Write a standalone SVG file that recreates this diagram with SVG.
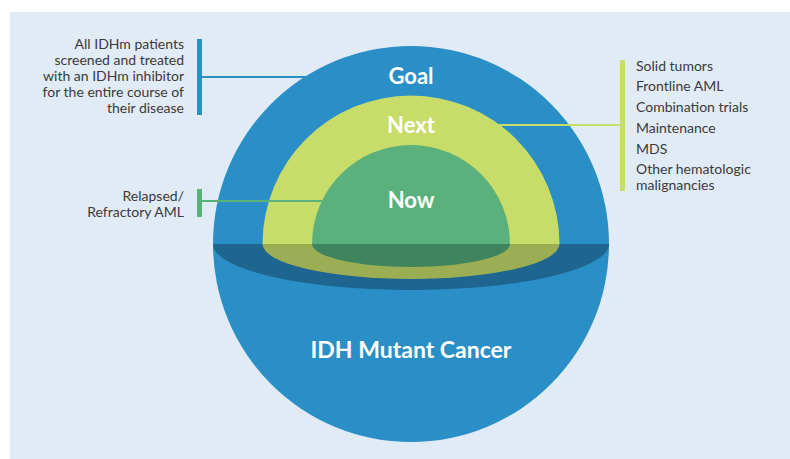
<svg xmlns="http://www.w3.org/2000/svg" width="790" height="459" viewBox="0 0 790 459">
  <style>
    .lbl { font-family: Lato, "Liberation Sans", sans-serif; font-size: 14px; fill: #3a3a3a; }
    .ttl { font-family: Lato, "Liberation Sans", sans-serif; font-weight: bold; fill: #ffffff; text-anchor: middle; }
  </style>
  <rect x="10" y="12" width="780" height="447" fill="#e1ebf6"/>

  <!-- IDH mutant cancer sphere -->
  <g id="sphere">
    <circle cx="411" cy="244" r="198" fill="#2a8fc6"/>
    <path d="M213 244 A198 46 0 0 0 609 244 Z" fill="#1e6690"/>
    <text class="ttl" x="411" y="358" font-size="23">IDH Mutant Cancer</text>
  </g>

  <!-- Goal ring label -->
  <g id="goal">
    <text class="ttl" x="411" y="84" font-size="22">Goal</text>
  </g>

  <!-- Next dome -->
  <g id="next">
    <path d="M262.5 244 A148.5 148.5 0 0 1 559.5 244 Z" fill="#c8dc6a"/>
    <path d="M262.5 244 A148.5 35 0 0 0 559.5 244 Z" fill="#9bae54"/>
    <text class="ttl" x="411" y="133" font-size="22">Next</text>
  </g>

  <!-- Now dome -->
  <g id="now">
    <path d="M312 244 A99 99 0 0 1 510 244 Z" fill="#5ab17c"/>
    <path d="M312 244 A99 23 0 0 0 510 244 Z" fill="#3f845c"/>
    <text class="ttl" x="411" y="208" font-size="22">Now</text>
  </g>

  <!-- Callout connectors -->
  <g id="connectors">
    <line x1="202" y1="77" x2="308" y2="77" stroke="#2a8fc6" stroke-width="2"/>
    <rect x="197" y="39" width="5" height="76" fill="#2a8fc6"/>
    <line x1="202" y1="201" x2="322" y2="201" stroke="#5ab17c" stroke-width="2"/>
    <rect x="197" y="189" width="5" height="28" fill="#5ab17c"/>
    <line x1="499" y1="125" x2="621" y2="125" stroke="#c8dc6a" stroke-width="2"/>
    <rect x="620" y="60" width="5" height="131" fill="#c8dc6a"/>
  </g>

  <!-- Goal callout text -->
  <g id="goal-note" text-anchor="end">
    <text class="lbl" x="184" y="49">All IDHm patients</text>
    <text class="lbl" x="184" y="65">screened and treated</text>
    <text class="lbl" x="184" y="81">with an IDHm inhibitor</text>
    <text class="lbl" x="184" y="97">for the entire course of</text>
    <text class="lbl" x="184" y="113">their disease</text>
  </g>

  <!-- Now callout text -->
  <g id="now-note" text-anchor="end">
    <text class="lbl" x="184" y="201">Relapsed/</text>
    <text class="lbl" x="184" y="217">Refractory AML</text>
  </g>

  <!-- Next callout text -->
  <g id="next-note">
    <text class="lbl" x="636" y="71">Solid tumors</text>
    <text class="lbl" x="636" y="91">Frontline AML</text>
    <text class="lbl" x="636" y="112">Combination trials</text>
    <text class="lbl" x="636" y="133">Maintenance</text>
    <text class="lbl" x="636" y="154">MDS</text>
    <text class="lbl" x="636" y="174">Other hematologic</text>
    <text class="lbl" x="636" y="190">malignancies</text>
  </g>
</svg>
